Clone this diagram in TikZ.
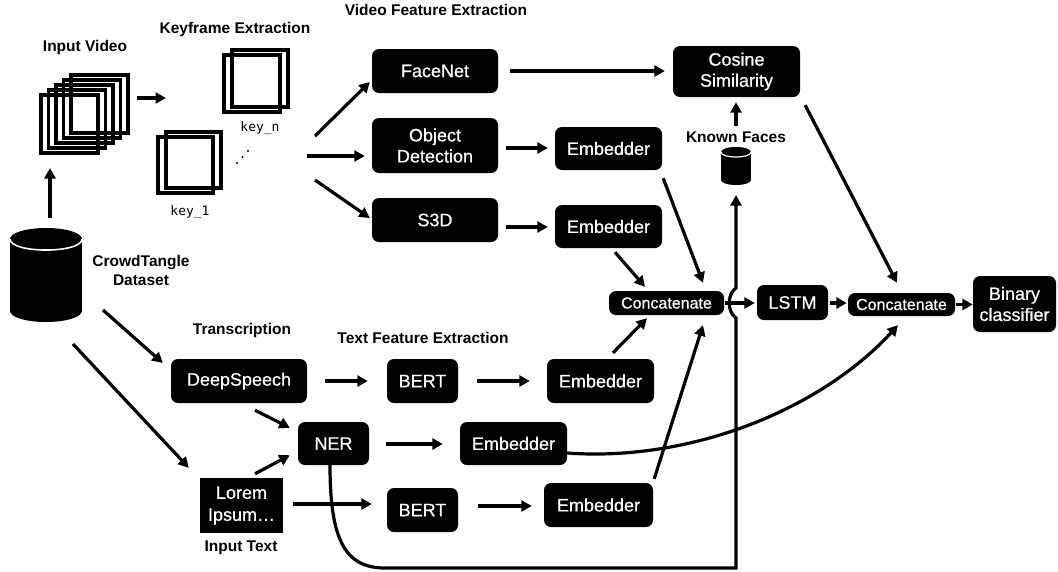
\documentclass[tikz,border=0pt]{standalone}
\usepackage{fontspec}
\setmainfont{Liberation Sans}
\newfontfamily\boxfnt{Liberation Sans}[FakeBold=0.6]
\newfontfamily\monofnt{DejaVu Sans Mono}
\usetikzlibrary{arrows.meta}
\begin{document}
\begin{tikzpicture}[x=1pt,y=-1pt,
  box/.style={fill=black,text=white,rounded corners=7pt,inner sep=0pt,align=center,font=\boxfnt\fontsize{18}{21}\selectfont},
  cbox/.style={box,font=\boxfnt\fontsize{16}{19}\selectfont},
  lbl/.style={font=\bfseries\fontsize{15.5}{19}\selectfont,align=center,inner sep=0pt},
  mono/.style={font=\monofnt\fontsize{13}{15}\selectfont,inner sep=0pt},
  arr/.style={line width=3.2pt,-{Triangle[length=10.5pt,width=11pt]}},
  frm/.style={line width=3.1pt},
  ghost/.style={inner sep=0pt,outer sep=0pt}
]
\useasboundingbox (0,0) rectangle (1058,571);

% ---------- labels ----------
\node[lbl] (lvfe) at (436,10) {Video Feature Extraction};
\node[lbl] (lvid) at (85,47) {Input Video};
\node[lbl] (lkey) at (235,29) {Keyframe Extraction};
\node[lbl] (lct) at (141,270) {CrowdTangle\\Dataset};
\node[lbl] (ltr) at (242,330) {Transcription};
\node[lbl] (ltfe) at (423,338) {Text Feature Extraction};
\node[lbl] (lit) at (241,548) {Input Text};
\node[lbl] (lkf) at (736,137) {Known Faces};

% ---------- input video frames ----------
\foreach \i in {0,...,4} \draw[frm] (41+7.5*\i,95-5*\i) rectangle ++(57,58);
\node[ghost,minimum width=88pt,minimum height=78pt] (video) at (85,114) {};

% ---------- keyframes ----------
\draw[frm] (224,55) rectangle (280,112);
\draw[frm] (232,50) rectangle (288,107);
\draw[frm] (158,137) rectangle (213,193);
\draw[frm] (166,132) rectangle (221,188);
\node[mono] (keyn) at (260,128) {key\_n};
\node[mono] (key1) at (190,212) {key\_1};
\fill (237,163) circle (1.2pt);
\fill (242.5,157) circle (1.2pt);
\fill (248,151) circle (1.2pt);
\coordinate (keyin) at (166,98);
\coordinate (kfo1) at (315,136);
\coordinate (kfo2) at (307,156);
\coordinate (kfo3) at (315,180);

% ---------- dataset cylinder ----------
\fill (10,239) rectangle (82,311);
\fill (46,239) ellipse [x radius=36pt,y radius=11pt];
\fill (46,311) ellipse [x radius=36pt,y radius=11pt];
\draw[white,line width=1.6pt] (10,239) .. controls (10,253.7) and (82,253.7) .. (82,239);
\node[ghost,minimum width=72pt,minimum height=94pt] (dataset) at (46,275) {};

% ---------- known faces cylinder ----------
\fill (721,152) rectangle (751,180);
\fill (736,152) ellipse [x radius=15pt,y radius=5pt];
\fill (736,180) ellipse [x radius=15pt,y radius=5pt];
\draw[white,line width=1.2pt] (721,152) .. controls (721,158.7) and (751,158.7) .. (751,152);
\node[ghost,minimum width=30pt,minimum height=38pt] (kfcyl) at (736,166) {};

% ---------- boxes ----------
\node[box,minimum width=126pt,minimum height=44pt] (facenet) at (435,71) {FaceNet};
\node[box,minimum width=126pt,minimum height=55pt] (objdet) at (435,145.5) {Object\\Detection};
\node[box,minimum width=126pt,minimum height=44pt] (s3d) at (435,220) {S3D};
\node[box,minimum width=107pt,minimum height=43pt] (emb1) at (608.5,148.5) {Embedder};
\node[box,minimum width=107pt,minimum height=43pt] (emb2) at (608.5,226.5) {Embedder};
\node[box,minimum width=127pt,minimum height=51pt] (cosine) at (736.5,71.5) {Cosine\\Similarity};
\node[cbox,minimum width=115pt,minimum height=24pt] (concat1) at (666.5,303) {Concatenate};
\node[box,minimum width=71pt,minimum height=35pt] (lstm) at (792.5,302.5) {LSTM};
\node[cbox,minimum width=107pt,minimum height=23pt] (concat2) at (901.5,304.5) {Concatenate};
\node[box,minimum width=83pt,minimum height=56pt] (binary) at (1014.5,304) {Binary\\classifier};
\node[box,minimum width=136pt,minimum height=44pt] (ds) at (239,381) {DeepSpeech};
\node[box,minimum width=71pt,minimum height=44pt] (bert1) at (422.5,381) {BERT};
\node[box,minimum width=107pt,minimum height=44pt] (emb3) at (600.5,381) {Embedder};
\node[box,minimum width=71pt,minimum height=43pt] (ner) at (333.5,443.5) {NER};
\node[box,minimum width=107pt,minimum height=43pt] (emb4) at (513.5,443.5) {Embedder};
\node[box,rounded corners=0pt,minimum width=83pt,minimum height=55pt,font=\boxfnt\fontsize{18}{22}\selectfont] (lorem) at (241.5,505.5) {Lorem\\Ipsum…};
\node[box,minimum width=71pt,minimum height=44pt] (bert2) at (422.5,510) {BERT};
\node[box,minimum width=109pt,minimum height=44pt] (emb5) at (598.5,505) {Embedder};

% ---------- connectors ----------
\draw[arr] ([shift={(4,-10)}]dataset.north) -- ([shift={(-35,15)}]video.south);
\draw[arr] ([shift={(8,-16)}]video.east) -- (keyin);
\draw[arr] (kfo1) -- ([shift={(-2,11)}]facenet.west);
\draw[arr] (kfo2) -- ([shift={(-7,10.5)}]objdet.west);
\draw[arr] (kfo3) -- ([shift={(-2,-2)}]s3d.west);
\draw[arr] ([shift={(12,0)}]facenet.east) -- ([shift={(-8,-0.5)}]cosine.west);
\draw[arr] ([shift={(8,2.5)}]objdet.east) -- ([shift={(-7,-0.5)}]emb1.west);
\draw[arr] ([shift={(8,7)}]s3d.east) -- ([shift={(-7,0.5)}]emb2.west);
\draw[arr] ([shift={(0,-5)}]lkf.north) -- ([shift={(-0.5,5)}]cosine.south);
\draw[arr] ([shift={(1,8)}]emb1.south east) -- ([shift={(36.5,-8)}]concat1.north);
\draw[arr] ([shift={(6.5,4)}]emb2.south) -- ([shift={(-21.5,-4)}]concat1.north);
\draw[arr] ([shift={(5,8)}]cosine.south east) -- ([shift={(-4.5,-10)}]concat2.north);
\draw[arr] ([shift={(1,0)}]concat1.east) -- ([shift={(-2,0.5)}]lstm.west);
\draw[arr] ([shift={(2,0.5)}]lstm.east) -- ([shift={(-1,-1.5)}]concat2.west);
\draw[arr] ([shift={(1,0)}]concat2.east) -- ([shift={(0,0.5)}]binary.west);
\draw[arr] ([shift={(21,-12)}]dataset.south east) -- ([shift={(-8,-18)}]ds.west);
\draw[arr] ([shift={(-9,22)}]dataset.south east) -- ([shift={(-11,-10)}]lorem.north west);
\draw[arr] ([shift={(18,0)}]ds.east) -- ([shift={(-19,0)}]bert1.west);
\draw[arr] ([shift={(19,0)}]bert1.east) -- ([shift={(-17,0)}]emb3.west);
\draw[arr] ([shift={(16,7)}]ds.south) -- ([shift={(-8,6)}]ner.north west);
\draw[arr] ([shift={(13.5,-4)}]lorem.north) -- ([shift={(-8,-10)}]ner.south west);
\draw[arr] ([shift={(17,0.5)}]ner.east) -- ([shift={(-17,0.5)}]emb4.west);
\draw[arr] ([shift={(10,-1.5)}]lorem.east) -- ([shift={(-15,-6)}]bert2.west);
\draw[arr] ([shift={(20,-4)}]bert2.east) -- ([shift={(-12,1)}]emb5.west);
\draw[arr] ([shift={(12.5,-6)}]emb3.north) -- ([shift={(-19.5,3)}]concat1.south);
\draw[arr] ([shift={(1,-4)}]emb5.north east) -- ([shift={(36.5,10)}]concat1.south);
\draw[arr] ([shift={(0,9.5)}]emb4.east) .. controls (690,462) and (820,410) .. ([shift={(-3.5,9)}]concat2.south);
\draw[arr] ([shift={(-3.5,0)}]ner.south) .. controls (330,540) and (345,568) .. (385,568) -- (736,568) -- (736,318)
   .. controls (727,312) and (727,294) .. (736,288) -- ([shift={(0,10)}]kfcyl.south);
\end{tikzpicture}
\end{document}
